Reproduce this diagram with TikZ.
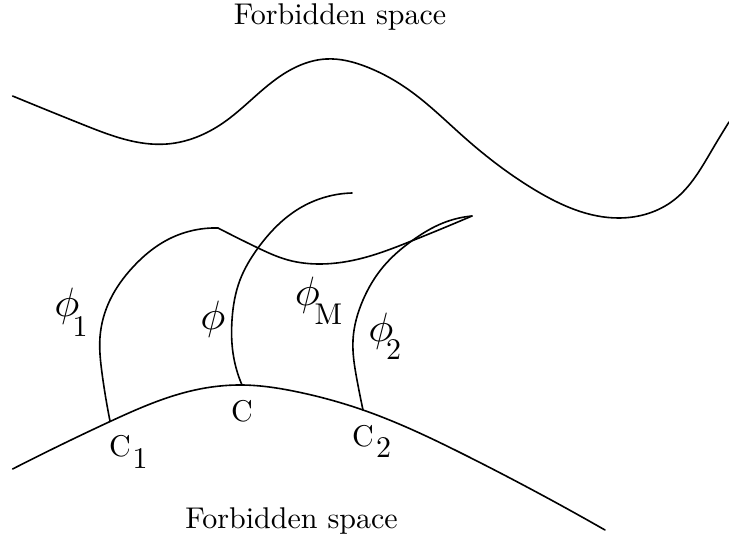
\documentclass[tikz,border=0pt]{standalone}
\usepackage{fontspec}
\setmainfont{lmroman10-regular.otf}
\usepackage{graphicx}
\usetikzlibrary{hobby}
\begin{document}
\begin{tikzpicture}[x=1pt,y=-1pt,
  curve/.style={line width=1.6pt, line join=round, line cap=round, use Hobby shortcut},
  lbl/.style={inner sep=0pt, font=\fontsize{30}{36}\selectfont},
  philbl/.style={inner sep=0pt}]
\newcommand{\bigphi}{\scalebox{4.2}[4.1]{$\phi$}}
\useasboundingbox (0,0) rectangle (729,543);
% top boundary
\draw[curve] (12.6,96) .. (84,125) .. (167,144) .. (223,123) .. (279,77) .. (326,59)
 .. (367,67) .. (409,90) .. (465,138) .. (535,190) .. (619,218) .. (674,200)
 .. (712,150) .. (729,122);
% bottom boundary
\draw[curve] (12.6,469) .. (109,422) .. (195,390) .. (242,385) .. (298,392)
 .. (363,410) .. (465,455) .. (605,530);
% phi1 arc
\draw[curve] (218,228) .. (167,240) .. (133,267) .. (110,300) .. (100,337)
 .. (102,373) .. (110,421);
% inner curve
\draw[curve] (218,228) .. (256,247) .. (288,260) .. (321,264) .. (363,258)
 .. (409,242) .. (472,216);
% phi arc
\draw[curve] (352,193) .. (300,208) .. (258,248) .. (240,280) .. (232,320)
 .. (233,353) .. (242,385);
% phi2 arc
\draw[curve] (472,216) .. (443,223) .. (413,240) .. (383,267) .. (363,300)
 .. (353,340) .. (357,380) .. (363,410);
% labels
\node[lbl, anchor=base] (topt) at (340,25) {Forbidden space};
\node[lbl, anchor=base] (bott) at (291.5,528) {Forbidden space};
\node[philbl] (p1) at (67,306.5) {\bigphi};
\node[lbl] (p1s) at (80,327) {1};
\node[philbl] (p) at (213,319) {\bigphi};
\node[philbl] (pm) at (307.5,295) {\bigphi};
\node[lbl] (pms) at (328.5,314) {M};
\node[philbl] (p2) at (381,331.5) {\bigphi};
\node[lbl] (p2s) at (393.5,350) {2};
\node[lbl] (c1) at (120,446) {C};
\node[lbl] (c1s) at (140,459) {1};
\node[lbl] (c) at (242,411.5) {C};
\node[lbl] (c2) at (363,436.5) {C};
\node[lbl] (c2s) at (383.5,448) {2};
\end{tikzpicture}
\end{document}
